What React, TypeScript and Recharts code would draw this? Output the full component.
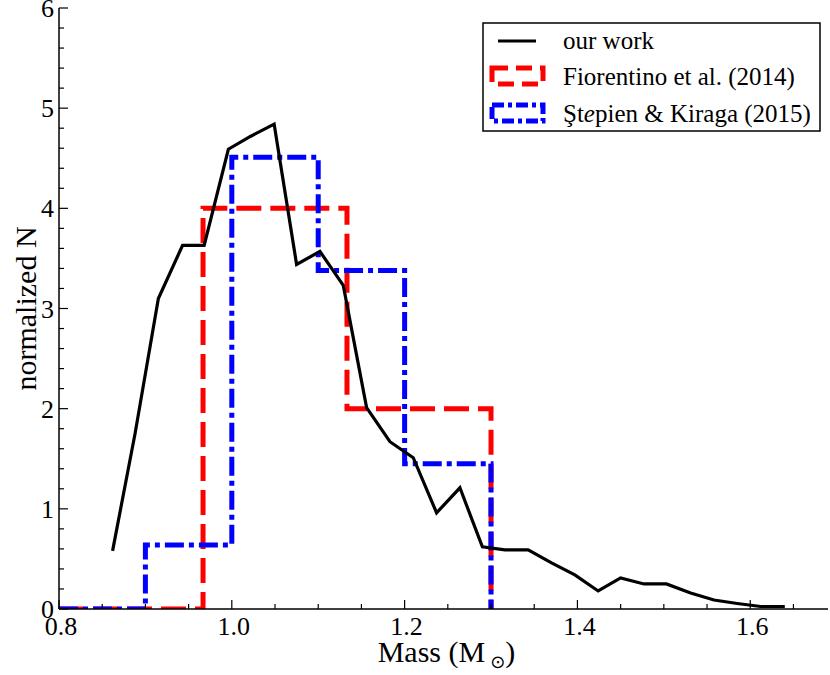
import { LineChart, Line, XAxis, YAxis } from "recharts";

// "our work" mass distribution
const ourMass = [
  0.862, 0.888, 0.915, 0.943, 0.968, 0.996, 1.022, 1.049, 1.075, 1.102, 1.129,
  1.156, 1.183, 1.21, 1.237, 1.264, 1.29, 1.316, 1.343, 1.37, 1.397, 1.424,
  1.45, 1.477, 1.503, 1.531, 1.558, 1.585, 1.612, 1.64,
];
const ourN = [
  0.58, 1.75, 3.1, 3.63, 3.63, 4.59, 4.72, 4.84, 3.44, 3.57, 3.23,
  2.01, 1.67, 1.51, 0.96, 1.21, 0.62, 0.59, 0.59, 0.46, 0.34, 0.18,
  0.31, 0.25, 0.25, 0.16, 0.09, 0.055, 0.025, 0.025,
];

// Fiorentino et al. (2014) histogram, bin edges + heights
const fiorEdges = [0.8, 0.9667, 1.1333, 1.3];
const fiorN = [0, 4.0, 2.0, 0];

// Stepien & Kiraga (2015) histogram
const stepEdges = [0.8, 0.9, 1.0, 1.1, 1.2, 1.3];
const stepN = [0, 0.64, 4.51, 3.38, 1.45, 0];

const xMajor = [0.8, 1.0, 1.2, 1.4, 1.6];
const xMinor = [0.85, 0.9, 0.95, 1.05, 1.1, 1.15, 1.25, 1.3, 1.35, 1.45, 1.5, 1.55, 1.65];
const yMajor = [0, 1, 2, 3, 4, 5, 6];
const yMinor = [
  0.2, 0.4, 0.6, 0.8, 1.2, 1.4, 1.6, 1.8, 2.2, 2.4, 2.6, 2.8, 3.2, 3.4, 3.6, 3.8,
  4.2, 4.4, 4.6, 4.8, 5.2, 5.4, 5.6, 5.8,
];

const ourData = ourMass.map((m, i) => ({ m, n: ourN[i] }));
const fiorData = fiorEdges.map((m, i) => ({ m, n: fiorN[i] }));
const stepData = stepEdges.map((m, i) => ({ m, n: stepN[i] }));

const xTicks = [...xMajor, ...xMinor].sort((a, b) => a - b);
const yTicks = [...yMajor, ...yMinor].sort((a, b) => a - b);

const isMajor = (v: number, list: number[]) => list.some((t) => Math.abs(t - v) < 1e-6);

const FONT = "'Liberation Serif', 'Times New Roman', serif";
const RED = "#ff0000";
const BLUE = "#0000ff";
const RED_DASH = "25 9";
const BLUE_DASH = "19 5 5 5";

const MAJ = 9;
const MIN = 5;

const BottomTick = (props: any) => {
  const { x, y, payload } = props;
  const major = isMajor(payload.value, xMajor);
  return (
    <g>
      <line x1={x} x2={x} y1={y} y2={y - (major ? MAJ : MIN)} stroke="#000" strokeWidth={1.2} />
      {major && (
        <text x={x + 2} y={y + 26} textAnchor="middle" fontSize={26} fontFamily={FONT} fill="#000">
          {payload.value.toFixed(1)}
        </text>
      )}
    </g>
  );
};

const TopTick = (props: any) => {
  const { x, y, payload } = props;
  const major = isMajor(payload.value, xMajor);
  return <line x1={x} x2={x} y1={y} y2={y + (major ? MAJ : MIN)} stroke="#000" strokeWidth={1.2} />;
};

const LeftTick = (props: any) => {
  const { x, y, payload } = props;
  const major = isMajor(payload.value, yMajor);
  return (
    <g>
      <line x1={x} x2={x + (major ? MAJ : MIN)} y1={y} y2={y} stroke="#000" strokeWidth={1.2} />
      {major && (
        <text x={x - 5} y={y + 9} textAnchor="end" fontSize={26} fontFamily={FONT} fill="#000">
          {payload.value}
        </text>
      )}
    </g>
  );
};

const RightTick = (props: any) => {
  const { x, y, payload } = props;
  const major = isMajor(payload.value, yMajor);
  return <line x1={x} x2={x - (major ? MAJ : MIN)} y1={y} y2={y} stroke="#000" strokeWidth={1.2} />;
};

const LegendBox = () => (
  <svg width={340} height={111} style={{ display: "block" }}>
    <rect x={1} y={1} width={337} height={108} fill="#fff" stroke="#000" strokeWidth={1.5} />
    <line x1={16} x2={54} y1={19} y2={19} stroke="#000" strokeWidth={3} />
    <text x={81} y={27} fontSize={25} fontFamily={FONT}>our work</text>
    <rect x={10} y={46} width={51} height={16} fill="none" stroke={RED} strokeWidth={5} strokeDasharray="16 8" />
    <text x={81} y={63} fontSize={25} fontFamily={FONT}>Fiorentino et al. (2014)</text>
    <rect x={10} y={83} width={51} height={16} fill="none" stroke={BLUE} strokeWidth={5} strokeDasharray="12 4 4 4" />
    <text x={81} y={100} fontSize={25} fontFamily={FONT}>
      Şt<tspan fontStyle="italic">e</tspan>pien &amp; Kiraga (2015)
    </text>
  </svg>
);

export default function App() {
  return (
    <div style={{ position: "relative", width: 830, height: 675, background: "#fff" }}>
      <style>{"body{margin:0}"}</style>
      <LineChart width={830} height={675} margin={{ top: 8, right: 2, left: 0, bottom: 0 }}>
        <XAxis
          xAxisId="b"
          dataKey="m"
          type="number"
          domain={[0.8, 1.69]}
          allowDataOverflow
          ticks={xTicks}
          interval={0}
          tickSize={0}
          tickMargin={0}
          tickLine={false}
          tick={<BottomTick />}
          axisLine={{ stroke: "#000", strokeWidth: 1.5 }}
          height={66}
          label={(p: any) => {
            const vb = p.viewBox;
            return (
              <text x={vb.x + vb.width / 2 + 3} y={vb.y + 53} textAnchor="middle" fontSize={30} fontFamily={FONT}>
                Mass (M
                <tspan dx={5} dy={6} fontSize={18} fontFamily="'DejaVu Sans'">⊙</tspan>
                <tspan dy={-6}>)</tspan>
              </text>
            );
          }}
        />
        <XAxis
          xAxisId="t"
          orientation="top"
          type="number"
          domain={[0.8, 1.69]}
          allowDataOverflow
          ticks={xTicks}
          interval={0}
          tickSize={0}
          tickMargin={0}
          tickLine={false}
          tick={<TopTick />}
          axisLine={{ stroke: "#000", strokeWidth: 1.5 }}
          height={0}
        />
        <YAxis
          yAxisId="l"
          type="number"
          domain={[0, 6]}
          allowDataOverflow
          ticks={yTicks}
          interval={0}
          tickSize={0}
          tickMargin={0}
          tickLine={false}
          tick={<LeftTick />}
          axisLine={{ stroke: "#000", strokeWidth: 1.5 }}
          width={59}
          label={(p: any) => {
            const vb = p.viewBox;
            const cx = 25;
            const cy = vb.y + vb.height / 2;
            return (
              <text x={cx} y={cy} transform={`rotate(-90 ${cx} ${cy})`} textAnchor="middle" dominantBaseline="central" fontSize={30} fontFamily={FONT}>
                normalized N
              </text>
            );
          }}
        />
        <YAxis
          yAxisId="r"
          orientation="right"
          type="number"
          domain={[0, 6]}
          allowDataOverflow
          ticks={yTicks}
          interval={0}
          tickSize={0}
          tickMargin={0}
          tickLine={false}
          tick={<RightTick />}
          axisLine={{ stroke: "#000", strokeWidth: 1.5 }}
          width={0}
        />
        <Line
          xAxisId="b"
          yAxisId="l"
          data={fiorData}
          dataKey="n"
          name="Fiorentino et al. (2014)"
          type="stepAfter"
          stroke={RED}
          strokeWidth={5}
          strokeDasharray={RED_DASH}
          dot={false}
          activeDot={false}
          isAnimationActive={false}
        />
        <Line
          xAxisId="b"
          yAxisId="l"
          data={stepData}
          dataKey="n"
          name="Stepien & Kiraga (2015)"
          type="stepAfter"
          stroke={BLUE}
          strokeWidth={5}
          strokeDasharray={BLUE_DASH}
          dot={false}
          activeDot={false}
          isAnimationActive={false}
        />
        <Line
          xAxisId="b"
          yAxisId="l"
          data={ourData}
          dataKey="n"
          name="our work"
          type="linear"
          stroke="#000"
          strokeWidth={3.2}
          dot={false}
          activeDot={false}
          isAnimationActive={false}
        />
      </LineChart>
      <div style={{ position: "absolute", top: 22, left: 482 }}>
        <LegendBox />
      </div>
    </div>
  );
}
